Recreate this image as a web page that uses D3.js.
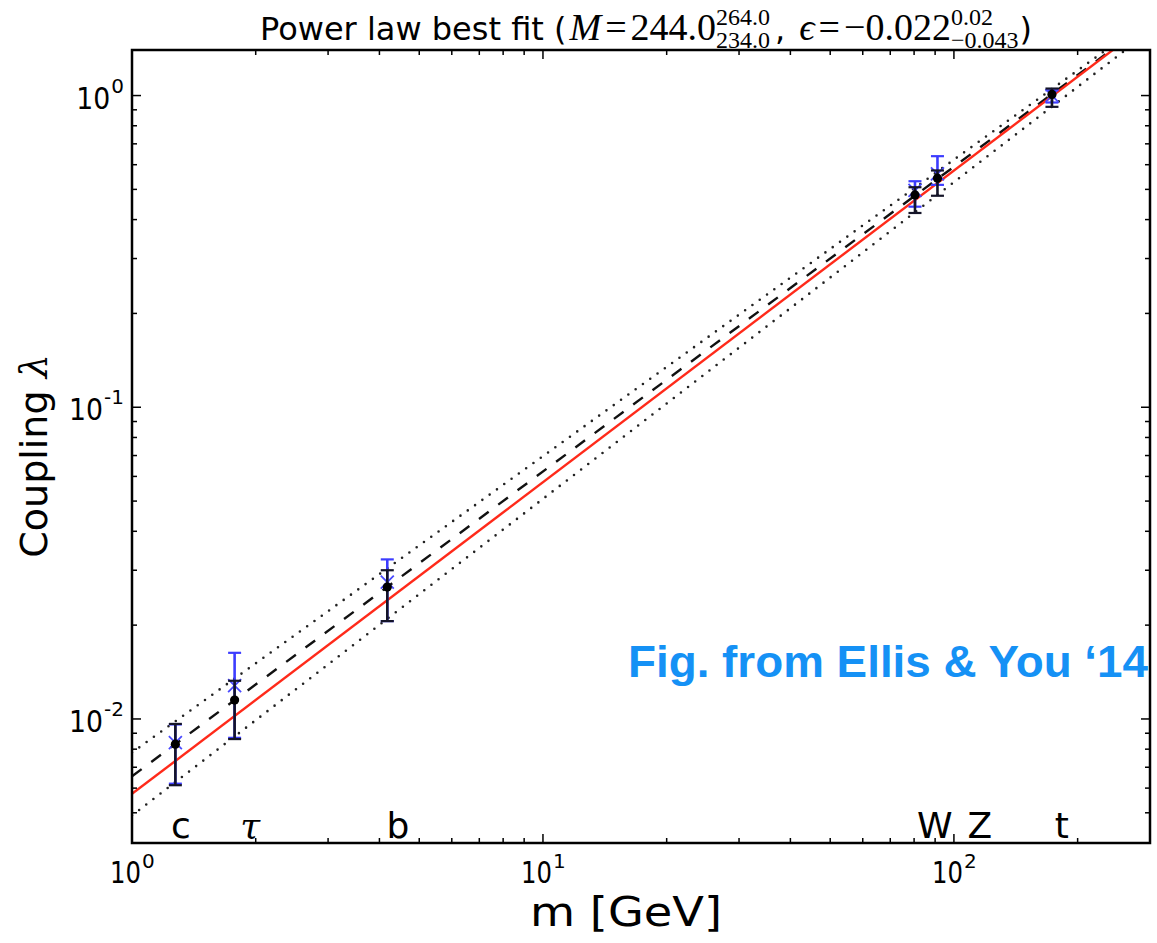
<!DOCTYPE html>
<html lang="en">
<head>
    <meta charset="utf-8">
    <title>Power law best fit</title>
    <script src="https://cdn.jsdelivr.net/npm/d3@7"></script>
    <style>
      body { margin: 0; background: #fff; }
      .frame { fill: none; stroke: #000; stroke-width: 2.5px; }
      .tick-mark { stroke: #000; stroke-width: 1.5px; }
      .lbl { font-family: "DejaVu Sans", sans-serif; fill: #000; }
    </style>
</head>
<body>
<svg width="1157" height="943"></svg>

<script>
// particle data (coupling lambda vs mass)
var particles = ["c", "τ", "b", "W", "Z", "t"];
var masses = [1.275, 1.777, 4.18, 80.4, 91.19, 173.2];
var labelMass = [1.316, 1.94, 4.44, 89.8, 115.6, 183];

var blackVal = [0.0083, 0.0115, 0.0265, 0.480, 0.543, 1.008];
var blackLo  = [0.00613, 0.00862, 0.0206, 0.420, 0.477, 0.92];
var blackHi  = [0.00964, 0.01326, 0.0300, 0.508, 0.575, 1.053];

var blueVal = [0.0084, 0.0128, 0.0275, 0.496, 0.561, 1.0];
var blueLo  = [0.0062, 0.0087, 0.0206, 0.44, 0.517, 0.95];
var blueHi  = [0.0096, 0.0163, 0.0325, 0.531, 0.639, 1.04];

// straight lines on log-log axes, value at m=1 and at m=300
var lineNames = ["upper", "lower", "fit", "sm"];
var lineAt1   = [0.0078, 0.0049, 0.00655, 0.00575];
var lineAt300 = [1.77, 1.61, 1.73, 1.7246];

var xTicks = [1, 10, 100];
var xTickExp = ["0", "1", "2"];
var yTicks = [0.01, 0.1, 1];
var yTickExp = ["-2", "-1", "0"];

var svg = d3.select("svg");
var pl = 132, pr = 1150, pt = 50, pb = 843;

var x = d3.scaleLog().domain([1, 300]).range([pl, pr]);
var y = d3.scaleLog().domain([0.004, 1.4]).range([pb, pt]);

svg.append("clipPath").attr("id", "plotclip")
  .append("rect")
    .attr("x", pl).attr("y", pt)
    .attr("width", pr - pl).attr("height", pb - pt);

var plot = svg.append("g").attr("clip-path", "url(#plotclip)");

var lineStyle = {
  upper: {color: "#222", width: 2.6, dash: "0,9", cap: "round"},
  lower: {color: "#222", width: 2.6, dash: "0,9", cap: "round"},
  fit:   {color: "#111", width: 2.4, dash: "12,12", cap: "butt"},
  sm:    {color: "#ff2a1a", width: 2.4, dash: null, cap: "butt"}
};

lineNames.forEach(function(name, i) {
  var s = lineStyle[name];
  plot.append("line")
    .attr("x1", x(1)).attr("y1", y(lineAt1[i]))
    .attr("x2", x(300)).attr("y2", y(lineAt300[i]))
    .attr("stroke", s.color)
    .attr("stroke-width", s.width)
    .attr("stroke-linecap", s.cap)
    .attr("stroke-dasharray", s.dash);
});

function errorBars(vals, lo, hi, color, cls) {
  var g = plot.append("g").attr("class", cls);
  masses.forEach(function(m, i) {
    var cx = x(m);
    g.append("line")
      .attr("x1", cx).attr("x2", cx)
      .attr("y1", y(lo[i])).attr("y2", y(hi[i]))
      .attr("stroke", color).attr("stroke-width", 2.6);
    [lo[i], hi[i]].forEach(function(v) {
      g.append("line")
        .attr("x1", cx - 6.5).attr("x2", cx + 6.5)
        .attr("y1", y(v)).attr("y2", y(v))
        .attr("stroke", color).attr("stroke-width", 2.2);
    });
  });
  return g;
}

// blue set: x markers
var blue = errorBars(blueVal, blueLo, blueHi, "#3c3cff", "blue");
masses.forEach(function(m, i) {
  var cx = x(m), cy = y(blueVal[i]), r = 6.5;
  blue.append("path")
    .attr("d", "M" + (cx - r) + "," + (cy - r) + "L" + (cx + r) + "," + (cy + r) +
               "M" + (cx - r) + "," + (cy + r) + "L" + (cx + r) + "," + (cy - r))
    .attr("stroke", "#4a4aff").attr("stroke-width", 1.8);
});

// black set: dots
var black = errorBars(blackVal, blackLo, blackHi, "#141428", "black");
black.selectAll("circle")
  .data(masses)
  .enter().append("circle")
    .attr("cx", function(d) { return x(d); })
    .attr("cy", function(d, i) { return y(blackVal[i]); })
    .attr("r", 4.6)
    .attr("fill", "#000");

// particle labels along the bottom
svg.selectAll(".plabel")
  .data(particles)
  .enter().append("text")
    .attr("class", "plabel lbl")
    .attr("x", function(d, i) { return x(labelMass[i]); })
    .attr("y", 838)
    .attr("text-anchor", "middle")
    .attr("font-size", 36)
    .style("font-family", function(d) { return d == "τ" ? "'DejaVu Serif', serif" : null; })
    .style("font-style", function(d) { return d == "τ" ? "italic" : null; })
    .text(function(d) { return d; });

// ticks, all four sides, pointing inward
var minorX = [], minorY = [];
[1, 10, 100].forEach(function(dec) {
  for (var k = 2; k <= 9; k++) if (dec * k <= 300) minorX.push(dec * k);
});
[0.001, 0.01, 0.1].forEach(function(dec) {
  for (var k = 2; k <= 9; k++) {
    var v = +(dec * k).toPrecision(3);
    if (v >= 0.004 && v <= 1.4) minorY.push(v);
  }
});

var ticks = svg.append("g");
function xTick(v, len) {
  ticks.append("line").attr("class", "tick-mark")
    .attr("x1", x(v)).attr("x2", x(v)).attr("y1", pb).attr("y2", pb - len);
  ticks.append("line").attr("class", "tick-mark")
    .attr("x1", x(v)).attr("x2", x(v)).attr("y1", pt).attr("y2", pt + len);
}
function yTick(v, len) {
  ticks.append("line").attr("class", "tick-mark")
    .attr("x1", pl).attr("x2", pl + len).attr("y1", y(v)).attr("y2", y(v));
  ticks.append("line").attr("class", "tick-mark")
    .attr("x1", pr).attr("x2", pr - len).attr("y1", y(v)).attr("y2", y(v));
}
xTicks.forEach(function(v) { xTick(v, 9); });
minorX.forEach(function(v) { xTick(v, 5); });
yTicks.forEach(function(v) { yTick(v, 9); });
minorY.forEach(function(v) { yTick(v, 5); });

svg.append("rect").attr("class", "frame")
  .attr("x", pl).attr("y", pt)
  .attr("width", pr - pl).attr("height", pb - pt);

// tick labels: "10" plus a separate superscript exponent
xTicks.forEach(function(v, i) {
  svg.append("text").attr("class", "lbl")
    .attr("x", x(v) - 22).attr("y", 883).attr("font-size", 30)
    .attr("textLength", 31).attr("lengthAdjust", "spacingAndGlyphs")
    .text("10");
  svg.append("text").attr("class", "lbl")
    .attr("x", x(v) + 10).attr("y", 868).attr("font-size", 20)
    .text(xTickExp[i]);
});
yTicks.forEach(function(v, i) {
  var e = svg.append("text").attr("class", "lbl")
    .attr("x", 124).attr("y", y(v) - 3).attr("font-size", 20)
    .attr("text-anchor", "end")
    .text(yTickExp[i]);
  var ew = e.node().getComputedTextLength();
  svg.append("text").attr("class", "lbl")
    .attr("x", 123 - ew).attr("y", y(v) + 13).attr("font-size", 30)
    .attr("text-anchor", "end")
    .attr("textLength", 34).attr("lengthAdjust", "spacingAndGlyphs")
    .text("10");
});

// axis titles
svg.append("text").attr("class", "lbl")
  .attr("x", 626).attr("y", 926)
  .attr("text-anchor", "middle")
  .attr("font-size", 40)
  .attr("textLength", 192).attr("lengthAdjust", "spacingAndGlyphs")
  .text("m [GeV]");

var yl = svg.append("text").attr("class", "lbl")
  .attr("transform", "translate(47,456) rotate(-90)")
  .attr("text-anchor", "middle")
  .attr("font-size", 38);
yl.append("tspan").text("Coupling ");
yl.append("tspan").style("font-family", "'DejaVu Serif', serif").style("font-style", "italic").text("λ");

// title with stacked super/subscripts
var title = svg.append("g");
var base = 40;
var serif = "'Liberation Serif', 'DejaVu Serif', serif";
var sans = "'DejaVu Sans', sans-serif";
var parts = [
  {t: "Power law best fit (", font: sans, size: 32, pad: 3},
  {t: "M", font: serif, size: 38, italic: true, pad: 4},
  {t: "=", font: serif, size: 38, pad: 4},
  {t: "244.0", font: serif, size: 38},
  {sup: "264.0", sub: "234.0", font: serif, size: 24, pad: 5},
  {t: ",", font: sans, size: 32, pad: 14},
  {t: "ϵ", font: serif, size: 38, italic: true, pad: 4},
  {t: "=", font: serif, size: 38, pad: 4},
  {t: "−0.022", font: serif, size: 38},
  {sup: "0.02", sub: "−0.043", font: serif, size: 24, pad: 1},
  {t: ")", font: sans, size: 32}
];
var cx = 260;
parts.forEach(function(p) {
  if (p.sup !== undefined) {
    var a = title.append("text").attr("x", cx).attr("y", base - 15)
      .style("font-family", p.font).attr("font-size", p.size).text(p.sup);
    var b = title.append("text").attr("x", cx).attr("y", base + 8)
      .style("font-family", p.font).attr("font-size", p.size).text(p.sub);
    cx += Math.max(a.node().getComputedTextLength(), b.node().getComputedTextLength()) + (p.pad || 0);
  } else {
    var t = title.append("text").attr("x", cx).attr("y", base)
      .style("font-family", p.font).attr("font-size", p.size)
      .style("font-style", p.italic ? "italic" : null)
      .text(p.t);
    cx += t.node().getComputedTextLength() + (p.pad || 0);
  }
});

// annotation
svg.append("text")
  .attr("x", 628).attr("y", 677)
  .style("font-family", "'Liberation Sans', Arial, sans-serif")
  .attr("font-weight", "bold")
  .attr("font-size", 45)
  .attr("textLength", 520).attr("lengthAdjust", "spacingAndGlyphs")
  .attr("fill", "#1591f5")
  .text("Fig. from Ellis & You ‘14");
</script>
</body>
</html>
